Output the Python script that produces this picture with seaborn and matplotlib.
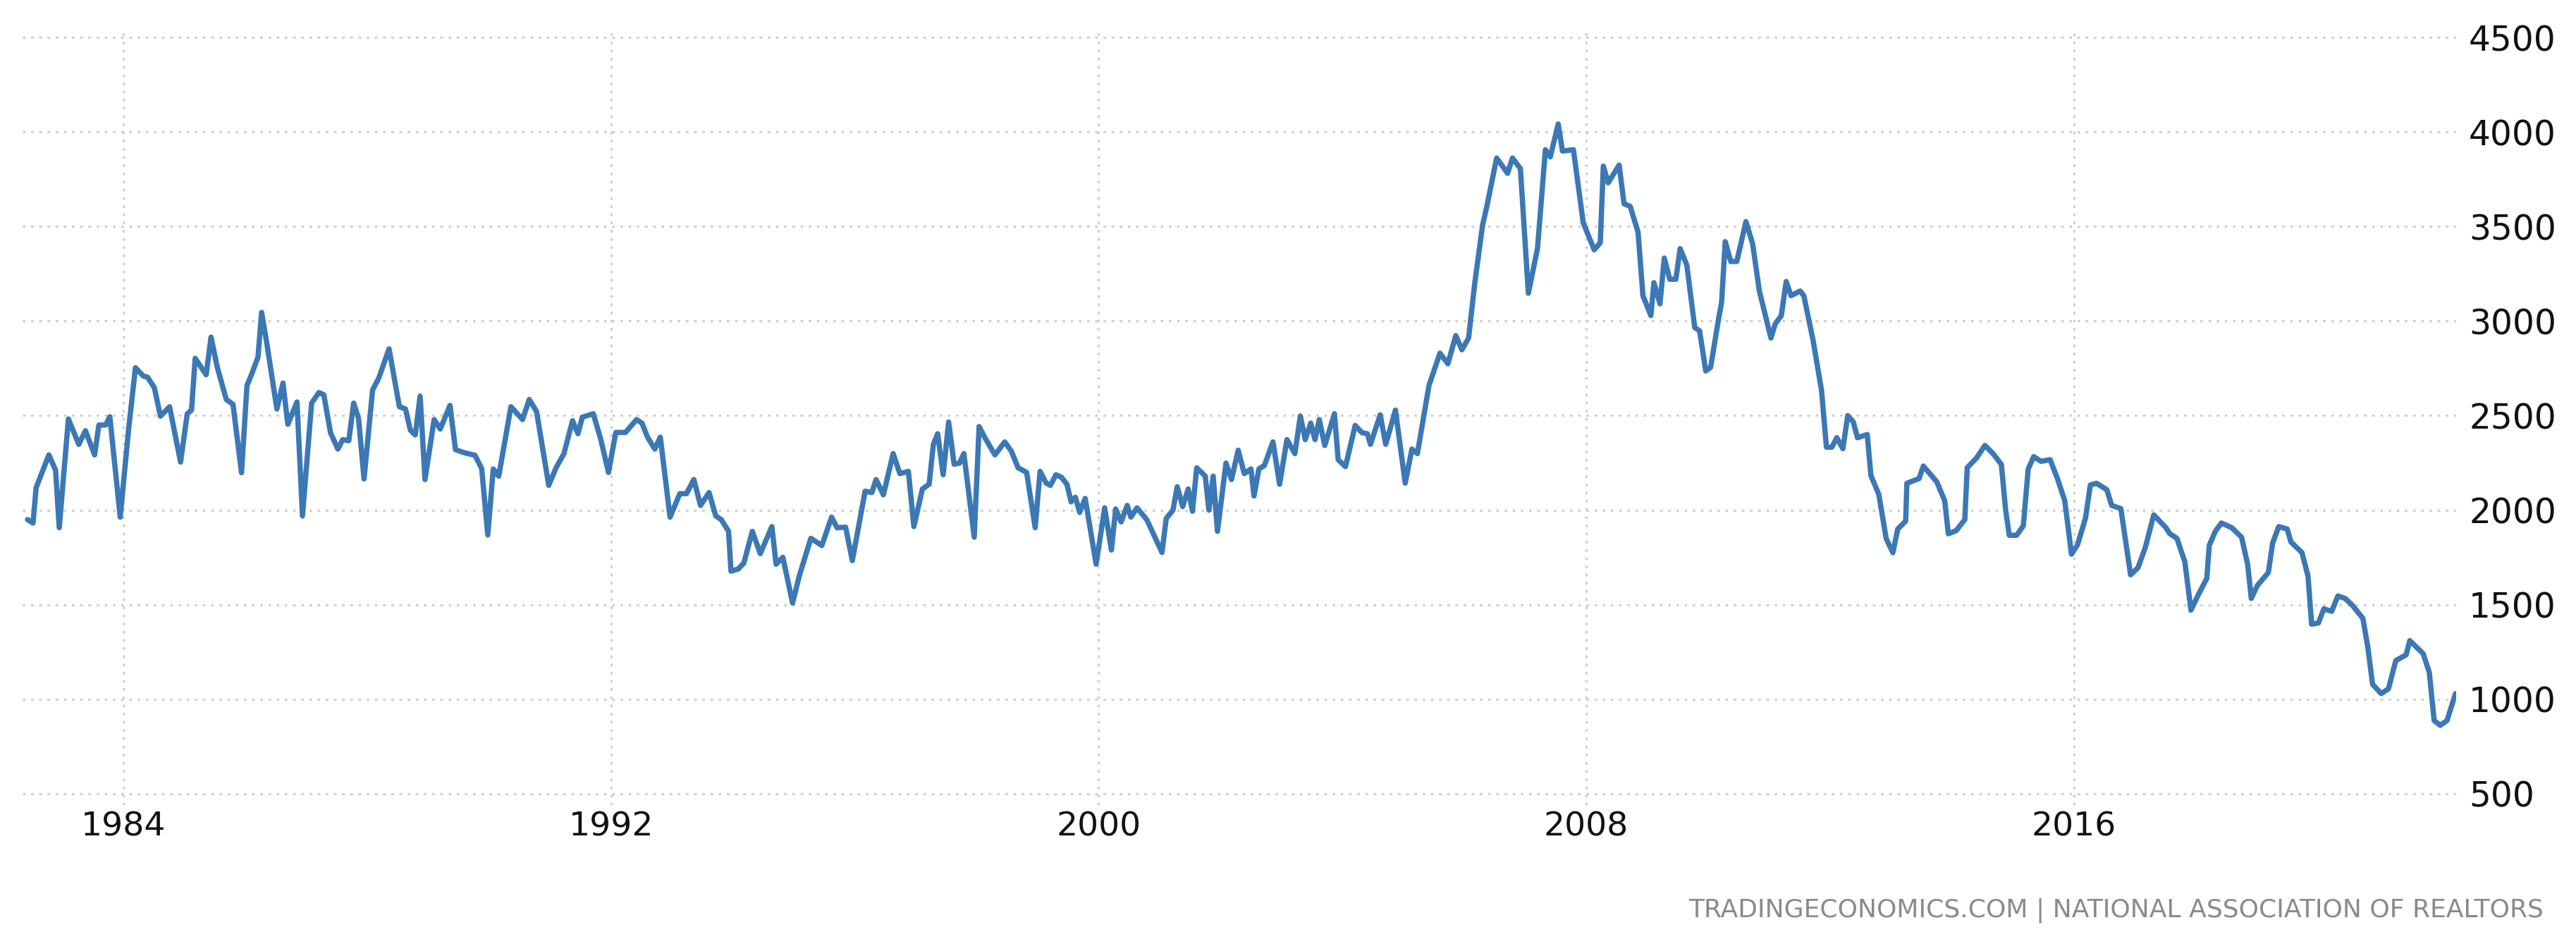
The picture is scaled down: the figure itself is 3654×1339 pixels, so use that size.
import numpy as np
import pandas as pd
import matplotlib
matplotlib.use("Agg")
import matplotlib.pyplot as plt
import seaborn as sns

# ---- data (decimal year, thousands of units) ----
years_80s = [1982.43, 1982.52, 1982.57, 1982.78, 1982.89, 1982.95, 1983.10, 1983.27, 1983.38, 1983.53,
             1983.60, 1983.71, 1983.78, 1983.95, 1984.09, 1984.20, 1984.33, 1984.40, 1984.51, 1984.61,
             1984.76, 1984.94, 1985.05, 1985.12, 1985.18, 1985.36, 1985.44, 1985.54, 1985.69, 1985.80,
             1985.94, 1986.03, 1986.11, 1986.21, 1986.27, 1986.36, 1986.52, 1986.62, 1986.70, 1986.85,
             1986.94, 1987.09, 1987.21, 1987.29, 1987.40, 1987.52, 1987.60, 1987.70, 1987.78, 1987.86,
             1987.95, 1988.09, 1988.19, 1988.36, 1988.53, 1988.63, 1988.71, 1988.79, 1988.87, 1988.95,
             1989.10, 1989.20, 1989.36, 1989.45, 1989.58, 1989.77, 1989.88]
values_80s = [1950, 1932, 2118, 2292, 2211, 1907, 2482, 2348, 2420, 2292,
              2450, 2450, 2494, 1963, 2435, 2753, 2709, 2703, 2647, 2497,
              2547, 2254, 2510, 2529, 2803, 2716, 2915, 2759, 2585, 2560,
              2198, 2660, 2722, 2809, 3046, 2872, 2535, 2672, 2454, 2572,
              1969, 2566, 2622, 2610, 2410, 2323, 2373, 2367, 2566, 2485,
              2165, 2635, 2697, 2853, 2547, 2535, 2423, 2398, 2603, 2162,
              2479, 2429, 2554, 2320, 2305, 2290, 2220]

years_90s = [1989.98, 1990.07, 1990.16, 1990.36, 1990.55, 1990.66, 1990.78, 1990.98, 1991.10, 1991.23,
             1991.37, 1991.46, 1991.53, 1991.71, 1991.83, 1991.96, 1992.08, 1992.24, 1992.42, 1992.51,
             1992.60, 1992.72, 1992.81, 1992.97, 1993.13, 1993.24, 1993.36, 1993.47, 1993.61, 1993.72,
             1993.81, 1993.93, 1993.97, 1994.09, 1994.18, 1994.32, 1994.45, 1994.64, 1994.71, 1994.82,
             1994.98, 1995.09, 1995.28, 1995.46, 1995.62, 1995.71, 1995.85, 1995.96, 1996.17, 1996.28,
             1996.35, 1996.47, 1996.63, 1996.74, 1996.88, 1996.97, 1997.11, 1997.22, 1997.29, 1997.36,
             1997.45, 1997.54, 1997.63, 1997.72, 1997.79, 1997.96, 1998.04, 1998.13, 1998.30, 1998.46,
             1998.57, 1998.68, 1998.82, 1998.96, 1999.04, 1999.14, 1999.21, 1999.30, 1999.39, 1999.48,
             1999.55, 1999.62, 1999.69, 1999.78, 1999.96]
values_90s = [1869, 2218, 2180, 2547, 2479, 2585, 2522, 2131, 2224, 2299,
              2473, 2404, 2491, 2510, 2379, 2199, 2411, 2411, 2479, 2460,
              2386, 2323, 2386, 1963, 2087, 2087, 2162, 2025, 2093, 1969,
              1950, 1888, 1677, 1689, 1720, 1888, 1770, 1913, 1714, 1751,
              1509, 1652, 1851, 1813, 1963, 1907, 1910, 1733, 2100, 2093,
              2162, 2081, 2299, 2193, 2205, 1913, 2112, 2137, 2348, 2404,
              2187, 2466, 2243, 2249, 2299, 1857, 2442, 2386, 2292, 2361,
              2311, 2224, 2199, 1907, 2205, 2143, 2131, 2187, 2174, 2137,
              2044, 2068, 1988, 2062, 1714]

years_00s = [2000.10, 2000.21, 2000.28, 2000.37, 2000.47, 2000.53, 2000.63, 2000.79, 2000.88, 2001.04,
             2001.11, 2001.22, 2001.29, 2001.38, 2001.47, 2001.54, 2001.61, 2001.75, 2001.81, 2001.88,
             2001.95, 2002.09, 2002.18, 2002.29, 2002.39, 2002.50, 2002.55, 2002.63, 2002.72, 2002.86,
             2002.97, 2003.09, 2003.22, 2003.31, 2003.39, 2003.48, 2003.55, 2003.62, 2003.71, 2003.87,
             2003.93, 2004.05, 2004.21, 2004.32, 2004.41, 2004.46, 2004.62, 2004.71, 2004.87, 2005.03,
             2005.14, 2005.23, 2005.42, 2005.60, 2005.73, 2005.86, 2005.96, 2006.07, 2006.17, 2006.30,
             2006.37, 2006.53, 2006.71, 2006.79, 2006.92, 2007.05, 2007.20, 2007.33, 2007.41, 2007.54,
             2007.61, 2007.79, 2007.95, 2008.13, 2008.23, 2008.28, 2008.36, 2008.54, 2008.62, 2008.72,
             2008.85, 2008.93, 2009.06, 2009.11, 2009.21, 2009.28, 2009.37, 2009.47, 2009.54, 2009.65,
             2009.78, 2009.86, 2009.96]
values_00s = [2012, 1789, 2006, 1938, 2025, 1963, 2012, 1950, 1888, 1776,
              1956, 2000, 2124, 2019, 2112, 1994, 2224, 2180, 2000, 2180,
              1888, 2249, 2162, 2317, 2193, 2218, 2075, 2218, 2236, 2361,
              2137, 2373, 2299, 2498, 2373, 2460, 2373, 2479, 2342, 2510,
              2267, 2230, 2448, 2410, 2404, 2348, 2504, 2348, 2529, 2143,
              2323, 2299, 2659, 2830, 2774, 2923, 2848, 2910, 3197, 3508,
              3607, 3862, 3781, 3862, 3806, 3147, 3383, 3906, 3868, 4042,
              3899, 3906, 3520, 3377, 3414, 3819, 3731, 3825, 3620, 3607,
              3470, 3134, 3029, 3203, 3091, 3333, 3221, 3221, 3383, 3296,
              2966, 2948, 2736]

years_10s = [2010.04, 2010.17, 2010.22, 2010.28, 2010.37, 2010.47, 2010.62, 2010.73, 2010.84, 2011.03,
             2011.10, 2011.20, 2011.28, 2011.36, 2011.51, 2011.57, 2011.72, 2011.86, 2011.94, 2012.03,
             2012.11, 2012.21, 2012.29, 2012.38, 2012.45, 2012.61, 2012.67, 2012.80, 2012.92, 2013.03,
             2013.11, 2013.24, 2013.26, 2013.46, 2013.53, 2013.75, 2013.88, 2013.94, 2014.07, 2014.21,
             2014.25, 2014.40, 2014.54, 2014.67, 2014.81, 2014.88, 2014.94, 2015.06, 2015.17, 2015.25,
             2015.34, 2015.46, 2015.61, 2015.73, 2015.85, 2015.96, 2016.06, 2016.19, 2016.27, 2016.37,
             2016.54, 2016.62, 2016.77, 2016.93, 2017.05, 2017.17, 2017.31, 2017.51, 2017.57, 2017.69,
             2017.82, 2017.92, 2018.04, 2018.18, 2018.22, 2018.32, 2018.42, 2018.59, 2018.75, 2018.85,
             2018.91, 2019.01, 2019.19, 2019.26, 2019.36, 2019.50, 2019.56, 2019.74, 2019.84, 2019.90]
values_10s = [2755, 3010, 3097, 3420, 3315, 3315, 3526, 3408, 3159, 2910,
              2985, 3029, 3209, 3134, 3159, 3133, 2900, 2633, 2333, 2333,
              2383, 2325, 2500, 2467, 2383, 2400, 2183, 2083, 1850, 1775,
              1900, 1942, 2142, 2167, 2233, 2150, 2050, 1875, 1892, 1950,
              2225, 2275, 2342, 2300, 2242, 2000, 1867, 1867, 1917, 2217,
              2283, 2258, 2267, 2167, 2050, 1767, 1817, 1958, 2133, 2142,
              2108, 2025, 2008, 1658, 1695, 1801, 1975, 1907, 1876, 1851,
              1726, 1471, 1552, 1639, 1813, 1888, 1932, 1907, 1857, 1714,
              1533, 1602, 1670, 1826, 1913, 1900, 1832, 1776, 1652, 1397]

years_20s = [2020.01, 2020.10, 2020.23, 2020.33, 2020.45, 2020.57, 2020.74, 2020.82, 2020.90, 2021.04,
             2021.16, 2021.28, 2021.45, 2021.51, 2021.73, 2021.83, 2021.91, 2022.01, 2022.12, 2022.26]
values_20s = [1403, 1478, 1465, 1546, 1533, 1496, 1428, 1278, 1079, 1030,
              1055, 1204, 1235, 1310, 1241, 1142, 887, 862, 887, 1030]

x_ticks = [1984, 1992, 2000, 2008, 2016]
y_ticks = [500, 1000, 1500, 2000, 2500, 3000, 3500, 4000, 4500]
source_text = "TRADINGECONOMICS.COM | NATIONAL ASSOCIATION OF REALTORS"

df = pd.DataFrame({
    "year": years_80s + years_90s + years_00s + years_10s + years_20s,
    "value": values_80s + values_90s + values_00s + values_10s + values_20s,
})

# ---- figure ----
sns.set_theme(style="white")
plt.rcParams["font.family"] = ["DejaVu Sans"]

fig = plt.figure(figsize=(36.55, 13.39), dpi=100)
ax = fig.add_axes([0.0088, 0.1471, 0.9444, 0.8193])

sns.lineplot(data=df, x="year", y="value", ax=ax, color="#3b78b5",
             linewidth=5.4, sort=True, estimator=None)

ax.set_xlim(1982.35, 2022.27)
ax.set_ylim(440, 4530)
ax.set_xticks(x_ticks)
ax.set_xticklabels([str(t) for t in x_ticks])
ax.set_yticks(y_ticks)
ax.set_yticklabels([str(t) for t in y_ticks])

ax.yaxis.tick_right()
ax.tick_params(axis="y", length=0, pad=13, labelsize=35, labelcolor="#111111")
ax.tick_params(axis="x", length=0, pad=6, labelsize=34, labelcolor="#111111")
for lab in ax.get_yticklabels():
    lab.set_horizontalalignment("left")

ax.grid(True, which="major", axis="both", color="#cfcfcf",
        linestyle=(0, (1.2, 2.6)), linewidth=2.2)
ax.set_axisbelow(True)
for s in ax.spines.values():
    s.set_visible(False)
ax.set_xlabel("")
ax.set_ylabel("")

fig.text(3608 / 3655, 1 - 1291 / 1339, source_text, ha="right", va="center",
         fontsize=26, color="#8a8a8a")

fig.savefig("out.png", dpi=100, facecolor="white")
